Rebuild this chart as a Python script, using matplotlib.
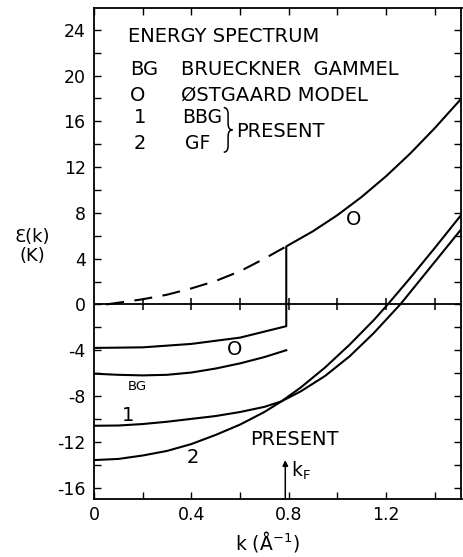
import matplotlib
matplotlib.use("Agg")
import matplotlib.pyplot as plt
from matplotlib.ticker import MultipleLocator, FixedLocator
from matplotlib.path import Path
from matplotlib.patches import PathPatch

plt.rcParams['font.family'] = ['DejaVu Sans']
plt.rcParams['axes.unicode_minus'] = False
plt.rcParams['lines.scale_dashes'] = False

# Østgaard model: dashed part below kF
k_ost_dash = [0.05, 0.2, 0.3, 0.4, 0.5, 0.6, 0.7, 0.79]
e_ost_dash = [0.0, 0.45, 0.85, 1.4, 2.05, 2.9, 4.0, 5.07]
# Østgaard model: lower branch (k<kF) and upper branch (k>kF)
k_ost_low = [0.0, 0.2, 0.4, 0.6, 0.79]
e_ost_low = [-3.8, -3.75, -3.45, -2.9, -1.9]
k_ost_up = [0.79, 0.9, 1.0, 1.1, 1.2, 1.3, 1.4, 1.51]
e_ost_up = [5.07, 6.4, 7.8, 9.4, 11.2, 13.2, 15.4, 18.0]
# Brueckner-Gammel
k_bg = [0.0, 0.1, 0.2, 0.3, 0.4, 0.5, 0.6, 0.7, 0.79]
e_bg = [-6.05, -6.15, -6.2, -6.15, -5.95, -5.6, -5.15, -4.6, -4.0]
# Present 1 (BBG)
k_1 = [0.0, 0.1, 0.2, 0.3, 0.4, 0.5, 0.6, 0.7, 0.77, 0.85, 0.95, 1.05, 1.15, 1.26, 1.35, 1.43, 1.51]
e_1 = [-10.6, -10.58, -10.45, -10.25, -10.0, -9.75, -9.4, -8.95, -8.47, -7.59, -6.24, -4.54, -2.49, 0.04, 2.4, 4.5, 6.6]
# Present 2 (GF)
k_2 = [0.0, 0.1, 0.2, 0.3, 0.4, 0.5, 0.6, 0.7, 0.77, 0.85, 0.95, 1.05, 1.15, 1.207, 1.3, 1.4, 1.51]
e_2 = [-13.6, -13.5, -13.2, -12.8, -12.2, -11.4, -10.5, -9.4, -8.47, -7.25, -5.5, -3.52, -1.36, 0.0, 2.33, 4.93, 7.85]

k_F = 0.786
x_major = [0.0, 0.4, 0.8, 1.2]
x_labels = ["0", "0.4", "0.8", "1.2"]
y_major = [-16, -12, -8, -4, 0, 4, 8, 12, 16, 20, 24]
y_labels = ["-16", "-12", "-8", "-4", "0", "4", "8", "12", "16", "20", "24"]
zero_line_ticks = [0.2, 0.4, 0.6, 0.8, 1.0, 1.2, 1.4]

W, H = 463, 557
fig = plt.figure(figsize=(W / 100, H / 100), dpi=100)
ax = fig.add_axes([94 / W, 1 - 499 / H, 367.5 / W, 491 / H])

lw = 1.5
ax.plot(k_ost_dash, e_ost_dash, color='black', lw=lw, linestyle=(0, (13, 7.5)))
ax.plot(k_ost_low + k_ost_up, e_ost_low + e_ost_up, color='black', lw=lw)
ax.plot(k_bg, e_bg, color='black', lw=lw)
ax.plot(k_1, e_1, color='black', lw=lw)
ax.plot(k_2, e_2, color='black', lw=lw)

ax.axhline(0, color='black', lw=1.3)
ax.plot(zero_line_ticks, [0] * len(zero_line_ticks), linestyle='none', marker='|',
        markersize=8, mew=1.1, color='black')

ax.set_xlim(0, 1.51)
ax.set_ylim(-17, 25.9)
ax.xaxis.set_major_locator(FixedLocator(x_major))
ax.set_xticklabels(x_labels)
ax.xaxis.set_minor_locator(MultipleLocator(0.2))
ax.yaxis.set_major_locator(FixedLocator(y_major))
ax.set_yticklabels(y_labels)
ax.yaxis.set_minor_locator(MultipleLocator(2))
ax.tick_params(which='both', direction='in', top=True, right=True, length=5, width=1.0,
               labelsize=12.5)
ax.tick_params(axis='y', pad=6)
ax.tick_params(axis='x', pad=5)
for s in ax.spines.values():
    s.set_linewidth(1.3)

fs = 14
ax.text(0.14, 23.4, "ENERGY SPECTRUM", fontsize=fs, va='center', ha='left')
ax.text(0.148, 20.5, "BG", fontsize=fs, va='center', ha='left')
ax.text(0.357, 20.5, "BRUECKNER  GAMMEL", fontsize=fs, va='center', ha='left')
ax.text(0.18, 18.25, "O", fontsize=fs, va='center', ha='center')
ax.text(0.357, 18.25, "ØSTGAARD MODEL", fontsize=fs, va='center', ha='left')
ax.text(0.189, 16.3, "1", fontsize=fs, va='center', ha='center')
ax.text(0.362, 16.3, "BBG", fontsize=13.5, va='center', ha='left')
ax.text(0.372, 14.1, "GF", fontsize=13.5, va='center', ha='left')
ax.text(0.189, 14.1, "2", fontsize=fs, va='center', ha='center')
ax.text(0.585, 15.1, "PRESENT", fontsize=fs, va='center', ha='left')

# curly brace grouping BBG and GF
bx0, bx1, bx2 = 0.533, 0.551, 0.569
by_top, by_mid, by_bot = 17.2, 15.25, 13.3
verts = [(bx0, by_top), (bx1, by_top), (bx1, by_top - 0.6),
         (bx1, by_mid + 0.55), (bx1, by_mid), (bx2, by_mid),
         (bx1, by_mid), (bx1, by_mid - 0.55), (bx1, by_bot + 0.6),
         (bx1, by_bot), (bx0, by_bot)]
codes = [Path.MOVETO, Path.CURVE3, Path.CURVE3, Path.LINETO, Path.CURVE3, Path.CURVE3,
         Path.CURVE3, Path.CURVE3, Path.LINETO, Path.CURVE3, Path.CURVE3]
ax.add_patch(PathPatch(Path(verts, codes), fill=False, lw=1.1, edgecolor='black'))

ax.text(1.065, 7.4, "O", fontsize=fs, va='center', ha='center')
ax.text(0.578, -3.96, "O", fontsize=fs, va='center', ha='center')
ax.text(0.18, -7.2, "BG", fontsize=9.5, va='center', ha='center')
ax.text(0.138, -9.7, "1", fontsize=fs, va='center', ha='center')
ax.text(0.405, -13.4, "2", fontsize=fs, va='center', ha='center')
ax.text(0.824, -11.8, "PRESENT", fontsize=fs, va='center', ha='center')

ax.annotate("", xy=(k_F, -13.6), xytext=(k_F, -17),
            arrowprops=dict(arrowstyle='-|>', color='black', lw=1.1,
                            mutation_scale=8, shrinkA=0, shrinkB=0))
ax.text(0.81, -14.5, "k$_\\mathregular{F}$", fontsize=13.5, va='center', ha='left')

fig.text(32 / W, 1 - 236.5 / H, "Ɛ(k)", fontsize=13, ha='center', va='center')
fig.text(32 / W, 1 - 256 / H, "(K)", fontsize=13, ha='center', va='center')
fig.text(267 / W, 1 - 542 / H, "k (Å$^{\\mathregular{-1}}$)", fontsize=13.5, ha='center', va='center')

fig.savefig("out.png", dpi=100)
